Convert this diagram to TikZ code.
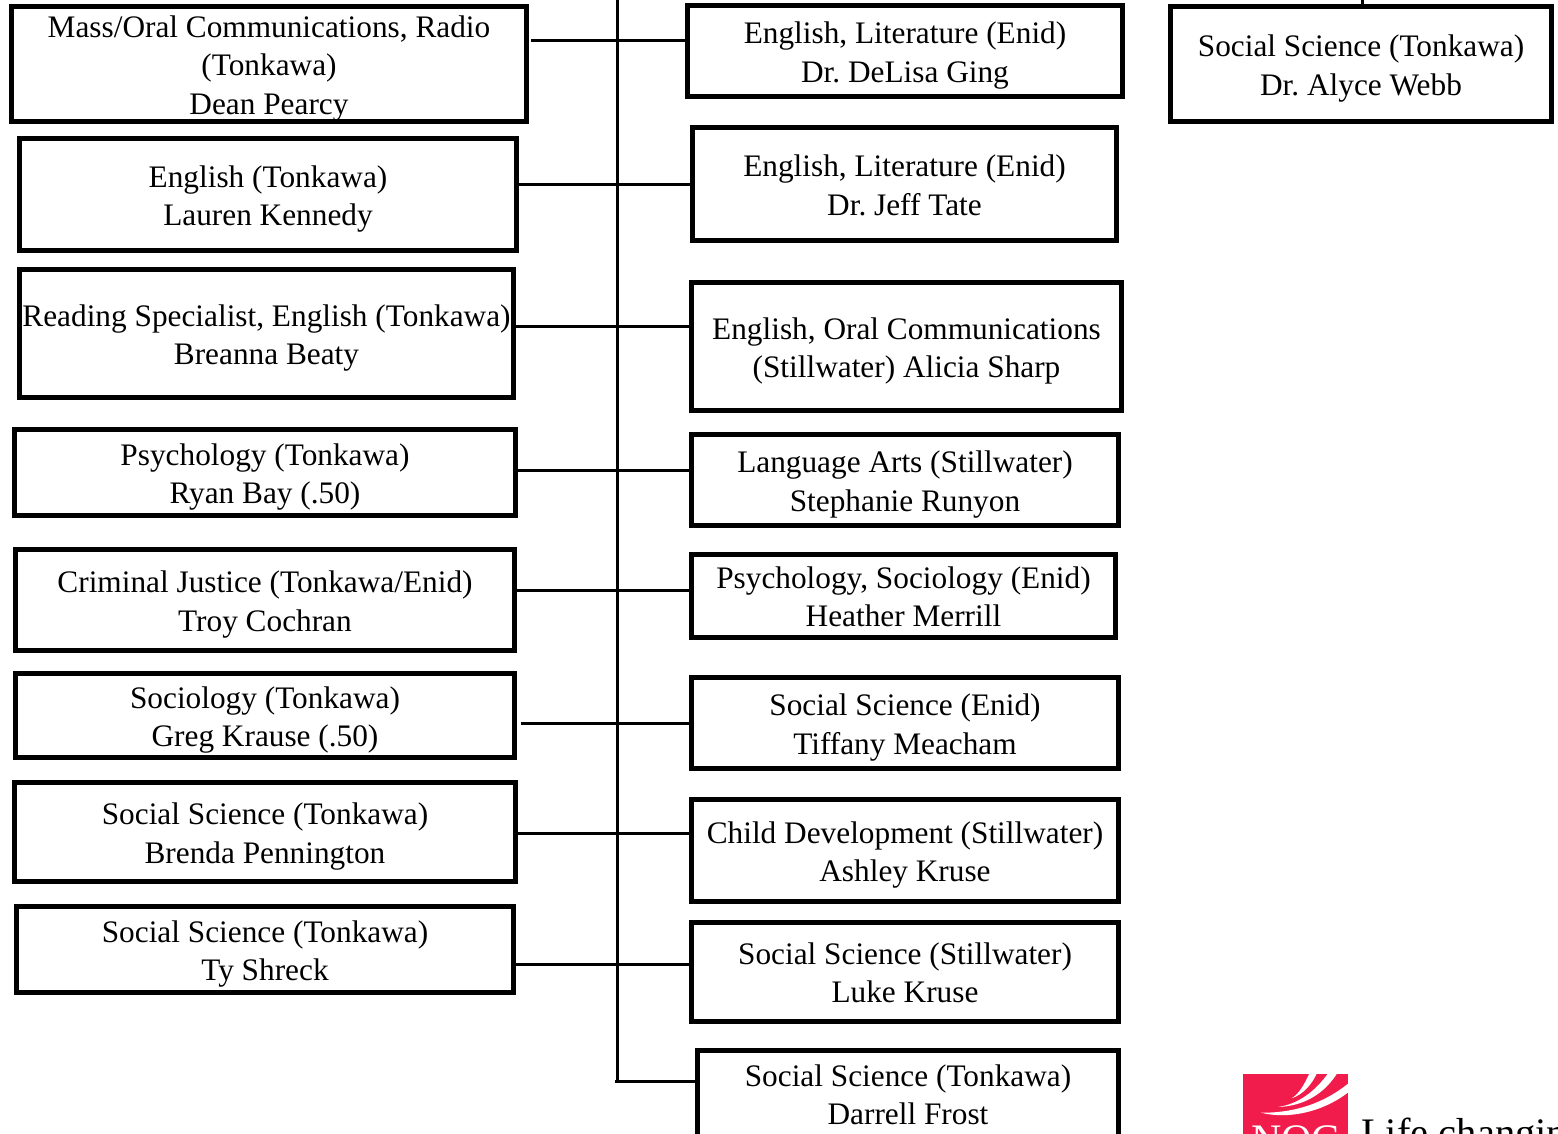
\documentclass[tikz,border=0pt]{standalone}
\usepackage{fontspec}
\setmainfont{Liberation Serif}
\definecolor{nocred}{RGB}{241,28,75}
\tikzset{
  orgbox/.style={draw=black,line width=5.3pt,fill=white,inner sep=0pt},
  orgtext/.style={align=center,inner sep=0pt,font=\fontsize{31.3}{38.5}\selectfont\frenchspacing},
  link/.style={draw=black,line width=3pt},
}
\newcommand{\orgnode}[7][-4.5pt]{%
  \pgfmathsetmacro{\bw}{#4-#3-5.3}\pgfmathsetmacro{\bh}{#6-#5-5.3}%
  \pgfmathsetmacro{\bx}{(#3+#4)/2}\pgfmathsetmacro{\by}{(#5+#6)/2}%
  \node[orgbox,minimum width=\bw pt,minimum height=\bh pt] (#2) at (\bx,\by) {};
  \node[orgtext] (#2text) at ([yshift=#1]#2.center) {#7};}
\begin{document}
\begin{tikzpicture}[x=1pt,y=-1pt]
\useasboundingbox (0,0) rectangle (1558,1133);
\clip (0,0) rectangle (1558,1133);
\fill[white] (0,0) rectangle (1558,1133);
\orgnode{la}{9}{529}{4}{124}{Mass/Oral Communications, Radio\\(Tonkawa)\\Dean Pearcy}
\orgnode{lb}{17}{519}{136}{253}{English (Tonkawa)\\Lauren Kennedy}
\orgnode{lc}{17}{516}{267}{400}{Reading Specialist, English (Tonkawa)\\Breanna Beaty}
\orgnode{ld}{12}{518}{427}{518}{Psychology (Tonkawa)\\Ryan Bay (.50)}
\orgnode{le}{13}{517}{547}{653}{Criminal Justice (Tonkawa/Enid)\\Troy Cochran}
\orgnode{lf}{13}{517}{671}{760}{Sociology (Tonkawa)\\Greg Krause (.50)}
\orgnode{lg}{12}{518}{780}{884}{Social Science (Tonkawa)\\Brenda Pennington}
\orgnode{lh}{14}{516}{904}{995}{Social Science (Tonkawa)\\Ty Shreck}
\orgnode{ra}{685}{1125}{3}{99}{English, Literature (Enid)\\Dr. DeLisa Ging}
\orgnode[-1.5pt]{rb}{690}{1119}{125}{243}{English, Literature (Enid)\\Dr. Jeff Tate}
\orgnode{rc}{689}{1124}{280}{413}{English, Oral Communications\\(Stillwater) Alicia Sharp}
\orgnode{rd}{689}{1121}{432}{528}{Language Arts (Stillwater)\\Stephanie Runyon}
\orgnode[-1pt]{re}{689}{1118}{552}{640}{Psychology, Sociology (Enid)\\Heather Merrill}
\orgnode{rf}{689}{1121}{675}{771}{Social Science (Enid)\\Tiffany Meacham}
\orgnode{rg}{689}{1121}{797}{904}{Child Development (Stillwater)\\Ashley Kruse}
\orgnode[-1pt]{rh}{689}{1121}{920}{1024}{Social Science (Stillwater)\\Luke Kruse}
\orgnode[0pt]{ri}{695}{1121}{1048}{1142}{Social Science (Tonkawa)\\Darrell Frost}
\orgnode{webb}{1168}{1554}{4}{124}{Social Science (Tonkawa)\\Dr. Alyce Webb}
% connectors
\coordinate (trunktop) at (617,-2);
\coordinate (trunkend) at (617,1081);
\coordinate (webbtop) at (1362,-2);
\coordinate (ya) at (0,40);\coordinate (yb) at (0,184);\coordinate (yc) at (0,326);
\coordinate (yd) at (0,470);\coordinate (ye) at (0,590);\coordinate (yf) at (0,723);
\coordinate (yg) at (0,833);\coordinate (yh) at (0,964);
\draw[link] (trunktop) -- (trunkend);
\draw[link] (webbtop) -- (webb.north -| webbtop);
\draw[link,shorten <=2pt] (la.east |- ya) -- (ra.west |- ya);
\draw[link] (lb.east |- yb) -- (rb.west |- yb);
\draw[link] (lc.east |- yc) -- (rc.west |- yc);
\draw[link] (ld.east |- yd) -- (rd.west |- yd);
\draw[link] (le.east |- ye) -- (re.west |- ye);
\draw[link,shorten <=4pt] (lf.east |- yf) -- (rf.west |- yf);
\draw[link] (lg.east |- yg) -- (rg.west |- yg);
\draw[link] (lh.east |- yh) -- (rh.west |- yh);
\draw[link] (trunkend) ++(-2,0) -- (ri.west |- trunkend);
% logo
\fill[nocred] (1243,1074) rectangle (1348,1140);
\begin{scope}
\clip (1243,1074) rectangle (1348,1140);
\fill[white] (1291.7,1098.3) .. controls (1300,1093) and (1305,1083) .. (1310,1072) -- (1317.5,1072) .. controls (1312,1084) and (1304,1094) .. (1291.7,1098.3) -- cycle;
\fill[white] (1278,1107) .. controls (1298,1104) and (1315,1092) .. (1329,1072) -- (1338,1072) .. controls (1325,1093) and (1305,1106) .. (1278,1107) -- cycle;
\fill[white] (1261,1112.7) .. controls (1295,1113) and (1325,1103) .. (1350,1082) -- (1350,1091) .. controls (1325,1111) and (1290,1120) .. (1261,1112.7) -- cycle;
\end{scope}
\node[anchor=base,text=white,inner sep=0pt,font=\fontsize{42}{42}\selectfont] (noc) at (1295.5,1153) {NOC};
\node[anchor=base west,inner sep=0pt,font=\fontsize{40.5}{41}\selectfont] (tag) at (1361,1146) {Life changing};
\end{tikzpicture}
\end{document}
